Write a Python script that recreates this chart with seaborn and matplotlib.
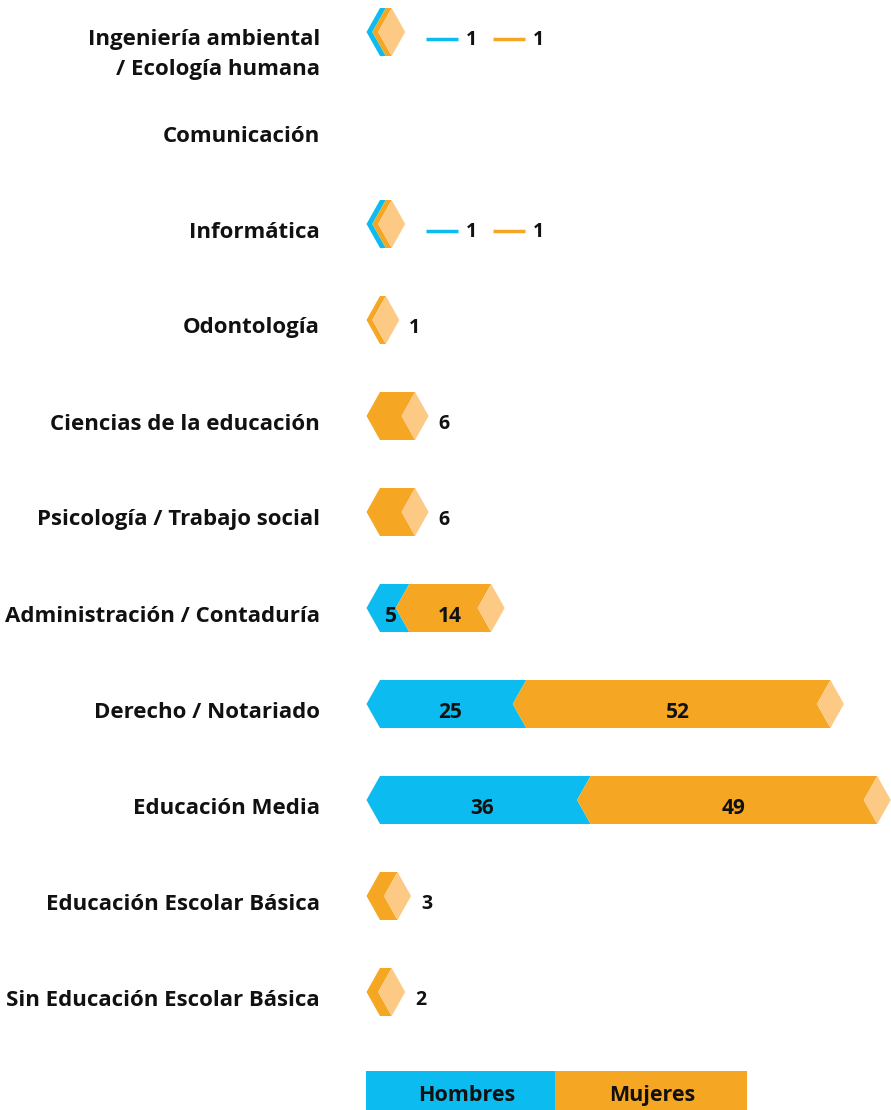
import matplotlib
matplotlib.use("Agg")
import matplotlib.pyplot as plt
import matplotlib.transforms as mtransforms
from matplotlib.patches import Polygon
import numpy as np
import pandas as pd
import seaborn as sns

sns.set_theme(style="white")
plt.rcParams["font.family"] = ["Open Sans", "DejaVu Sans"]

# ---- data -------------------------------------------------------------
categorias = [
    "Ingeniería ambiental\n/ Ecología humana",
    "Comunicación",
    "Informática",
    "Odontología",
    "Ciencias de la educación",
    "Psicología / Trabajo social",
    "Administración / Contaduría",
    "Derecho / Notariado",
    "Educación Media",
    "Educación Escolar Básica",
    "Sin Educación Escolar Básica",
]
hombres = [1, 0, 1, 0, 0, 0, 5, 25, 36, 0, 0]
mujeres = [1, 0, 1, 1, 6, 6, 14, 52, 49, 3, 2]
series = ["Hombres", "Mujeres"]

AZUL = "#0cbbef"
NARANJA = "#f5a623"
CLARO = "#fdca86"
TEXTO = "#111111"

# ---- layout (pixel based) ---------------------------------------------
W, H = 891, 1110
PX_UNIT = 5.85          # pixels per person on the x axis
ROW_PX = 96             # pixels per category row
fig = plt.figure(figsize=(W / 100, H / 100), dpi=100)
ax = fig.add_axes([360 / W, 0, (W - 360) / W, 1])

totales = np.array(hombres) + np.array(mujeres)
df = pd.DataFrame({"categoria": categorias, "total": totales})

# seaborn gives us the categorical axis and the bar geometry;
# the rectangles are then redrawn as chevrons
sns.barplot(data=df, x="total", y="categoria", orient="h", width=0.5,
            color=NARANJA, ax=ax)

ax.set_xlim((360 - 380) / PX_UNIT, (W - 380) / PX_UNIT)
ax.set_ylim((H - 32) / ROW_PX, -32 / ROW_PX)

d = 13.5 / PX_UNIT          # depth of the chevron point
dy_txt = 8 / ROW_PX         # text sits slightly below the bar centre
px = 1 / PX_UNIT

geom = []
for p in list(ax.patches):
    geom.append((p.get_y() + p.get_height() / 2, p.get_height()))
    p.remove()


def chevron(x0, x1, yc, h, color):
    top, bot = yc - h / 2, yc + h / 2
    pts = [(x0 - d, yc), (x0, top), (x1, top), (x1 - d, yc), (x1, bot), (x0, bot)]
    ax.add_patch(Polygon(pts, closed=True, facecolor=color, edgecolor="none",
                         clip_on=False))


def cap(xe, yc, h):
    top, bot = yc - h / 2, yc + h / 2
    pts = [(xe - d, yc), (xe, top), (xe + d, yc), (xe, bot)]
    ax.add_patch(Polygon(pts, closed=True, facecolor=CLARO, edgecolor="none",
                         clip_on=False))


for i, (yc, h) in enumerate(geom):
    hv, mv = hombres[i], mujeres[i]
    if hv + mv == 0:
        continue
    segs = [(0, hv, AZUL), (hv, hv + mv, NARANJA)]
    for x0, x1, c in segs:
        if x1 > x0:
            chevron(x0, x1, yc, h, c)
    end = hv + mv
    cap(end, yc, h)

    vals = [v for v in (hv, mv) if v > 0]
    ty = yc + dy_txt
    if hv > 0 and mv > 0 and min(hv, mv) >= 3:
        # labels inside the segments
        ax.text(hv / 2 - 0.6, ty, str(hv), ha="center", va="center",
                fontsize=15, fontweight="bold", color=TEXTO)
        ax.text(hv + mv / 2, ty, str(mv), ha="center", va="center",
                fontsize=15, fontweight="bold", color=TEXTO)
    elif len(vals) == 1:
        ax.text(end + d + 10 * px, ty, str(vals[0]), ha="left", va="center",
                fontsize=14, fontweight="bold", color=TEXTO)
    else:
        # tiny segments: small legend-like line labels
        x = end + d + 21 * px
        ly = yc + 7 / ROW_PX
        for v, c in zip((hv, mv), (AZUL, NARANJA)):
            ax.plot([x, x + 32 * px], [ly, ly], color=c, lw=2.5,
                    solid_capstyle="butt", clip_on=False)
            ax.text(x + 45 * px, ty, str(v), ha="center", va="center",
                    fontsize=14, fontweight="bold", color=TEXTO)
            x += 67 * px

# category labels, right aligned left of the bars
trans = mtransforms.blended_transform_factory(fig.transFigure, ax.transData)
for (yc, h), lab in zip(geom, categorias):
    for k, line in enumerate(lab.split("\n")):
        ax.text(320 / W, yc + dy_txt + k * 30 / ROW_PX, line, transform=trans,
                ha="right", va="center", fontsize=16, fontweight="bold",
                color=TEXTO, clip_on=False)

ax.set_xlabel("")
ax.set_ylabel("")
ax.set_xticks([])
ax.set_yticks([])
sns.despine(ax=ax, left=True, bottom=True)

# legend: two coloured blocks at the bottom
leg = fig.add_axes([366 / W, 0, 381 / W, 39 / H])
leg.axvspan(0, 189 / 381, color=AZUL, lw=0)
leg.axvspan(189 / 381, 1, color=NARANJA, lw=0)
leg.text(101 / 381, 0.36, series[0], ha="center", va="center",
         fontsize=15.5, color=TEXTO, fontweight="bold")
leg.text(286 / 381, 0.36, series[1], ha="center", va="center",
         fontsize=15.5, color=TEXTO, fontweight="bold")
leg.set_xlim(0, 1)
leg.set_ylim(0, 1)
leg.axis("off")

fig.savefig("out.png", dpi=100)
